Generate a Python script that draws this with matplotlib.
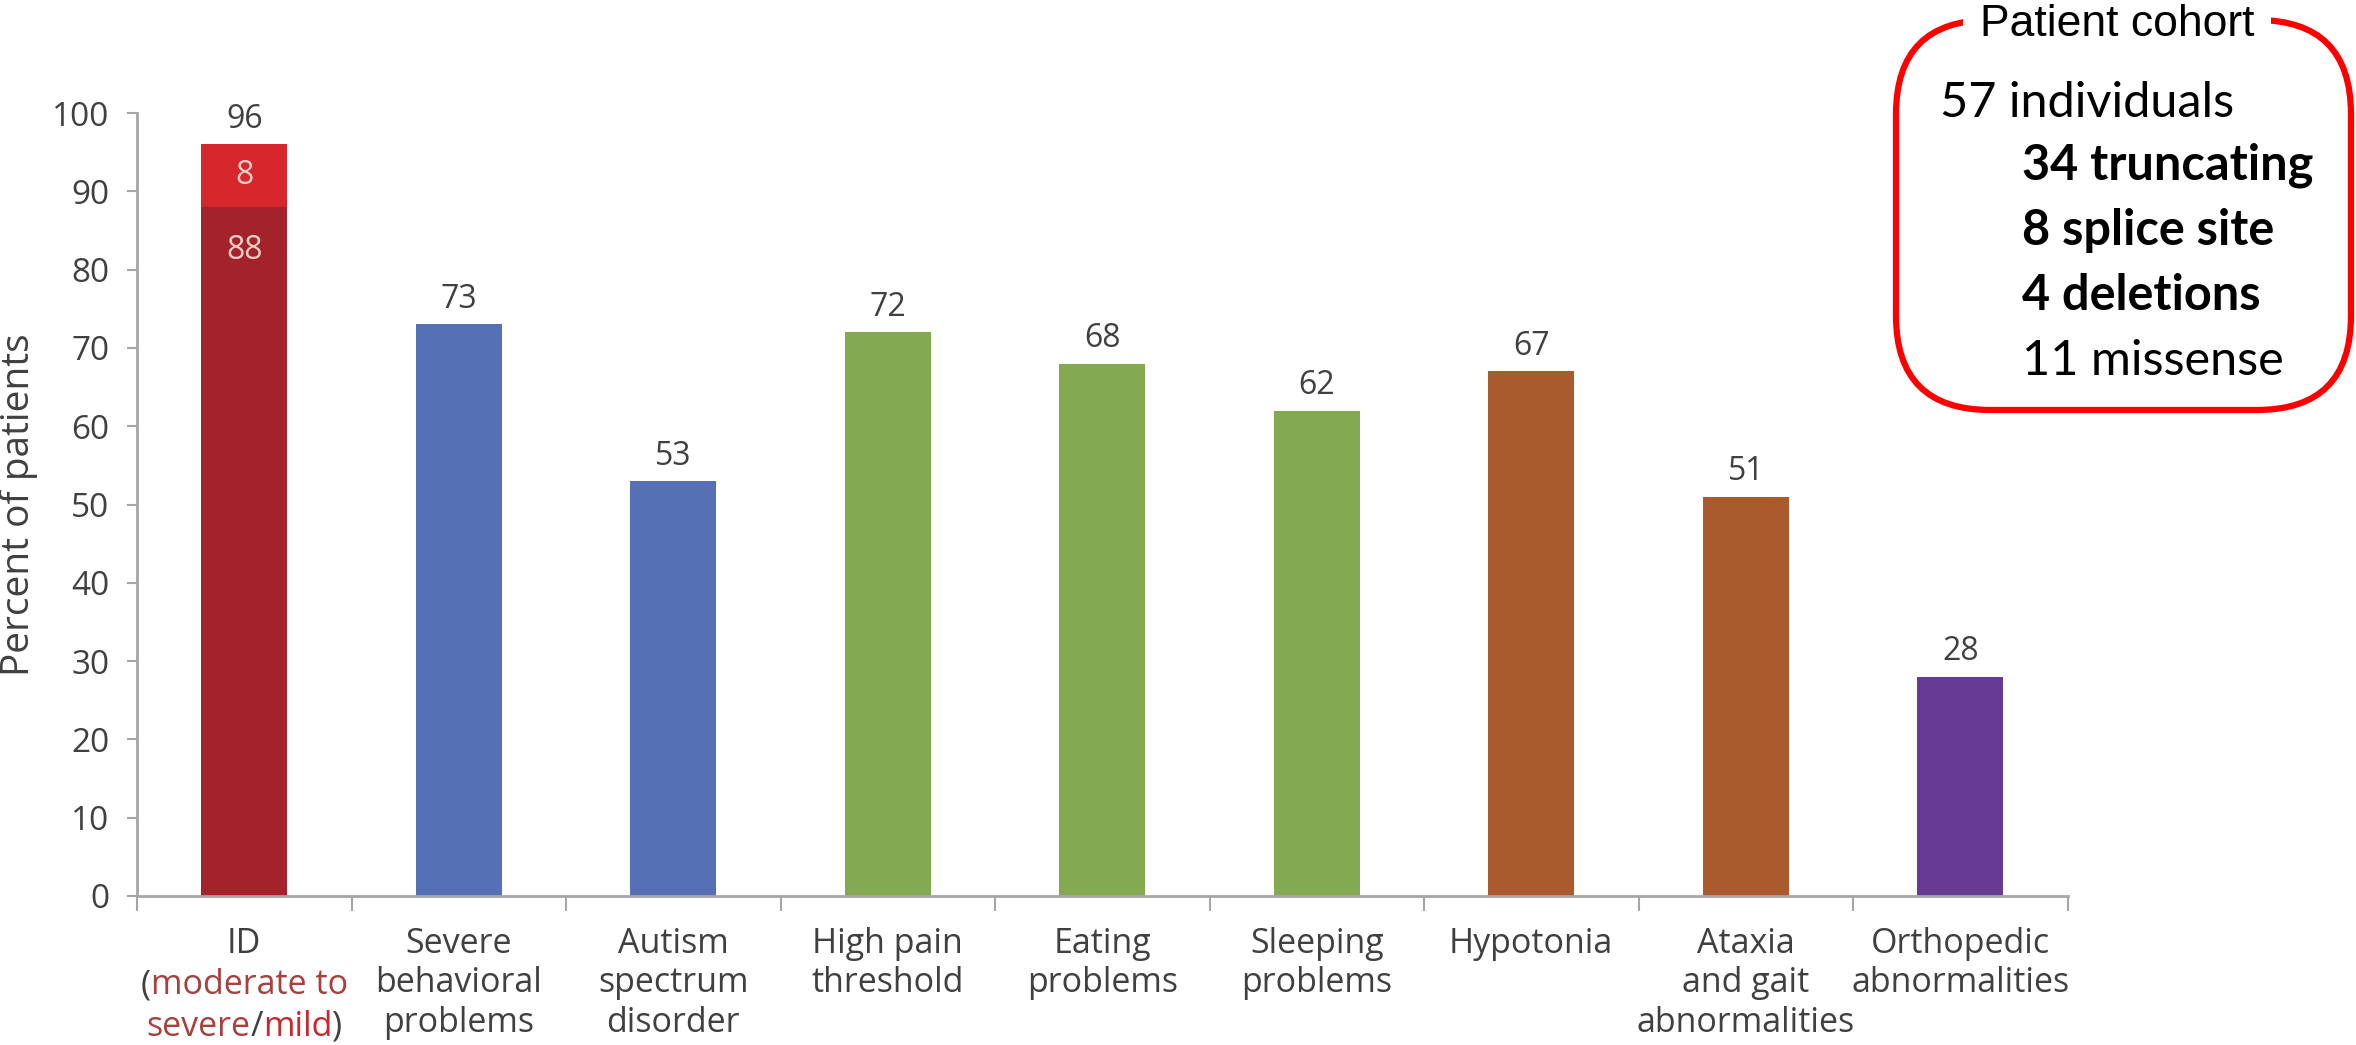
import matplotlib
matplotlib.use("Agg")
import matplotlib.pyplot as plt
from matplotlib.patches import FancyBboxPatch
from matplotlib.offsetbox import TextArea, HPacker, VPacker, AnnotationBbox
import matplotlib.transforms as mtransforms

# ---------------- data ----------------
categories = ["ID", "Severe\nbehavioral\nproblems", "Autism\nspectrum\ndisorder",
              "High pain\nthreshold", "Eating\nproblems", "Sleeping\nproblems",
              "Hypotonia", "Ataxia\nand gait\nabnormalities", "Orthopedic\nabnormalities"]
totals = [96, 73, 53, 72, 68, 62, 67, 51, 28]
id_moderate_severe = 88
id_mild = 8
bar_colors = ["#A4232A", "#5570B4", "#5570B4", "#83AA51", "#83AA51", "#83AA51",
              "#A95B2E", "#A95B2E", "#673A93"]
id_mild_color = "#D6272D"
yticks = [0, 10, 20, 30, 40, 50, 60, 70, 80, 90, 100]
cohort_title = "Patient cohort"
cohort_lines = [("57 individuals", "normal"), ("34 truncating", "bold"),
                ("8 splice site", "bold"), ("4 deletions", "bold"),
                ("11 missense", "normal")]

FONT = "Open Sans"
GREY = "#404040"
W, H = 2356, 1045
fig = plt.figure(figsize=(W / 100, H / 100), dpi=100)

ax = fig.add_axes([137 / W, (H - 896) / H, 1930.5 / W, (896 - 113) / H])
x = list(range(len(categories)))

# bars
for i, (t, c) in enumerate(zip(totals, bar_colors)):
    if i == 0:
        ax.bar(i, id_moderate_severe, width=0.40, color=c, zorder=2)
        ax.bar(i, id_mild, bottom=id_moderate_severe, width=0.40, color=id_mild_color, zorder=2)
    else:
        ax.bar(i, t, width=0.40, color=c, zorder=2)
    ax.annotate(str(t), (i, t), xytext=(0, 6), textcoords="offset points",
                ha="center", va="bottom", fontsize=23, color=GREY, family=FONT)

# inside labels for ID bar
ax.text(0, id_moderate_severe + id_mild / 2, str(id_mild), ha="center", va="center",
        fontsize=23, color="#F6CFC6", family=FONT, zorder=3)
ax.text(0, id_moderate_severe - 5.6, str(id_moderate_severe), ha="center", va="center",
        fontsize=23, color="#F6CFC6", family=FONT, zorder=3)

ax.set_xlim(-0.5, len(categories) - 0.5)
ax.set_ylim(0, 100)
ax.set_yticks(yticks)
ax.set_yticklabels([str(v) for v in yticks], fontsize=24, color=GREY, family=FONT)
ax.tick_params(axis="y", length=7, width=1.5, color="#A6A6A6", pad=13)

LABEL_FS = 24.5
ax.set_xticks(x)
ax.set_xticklabels([""] + categories[1:], fontsize=LABEL_FS, color=GREY, family=FONT,
                   linespacing=1.22)
ax.tick_params(axis="x", which="major", length=0, pad=22)
ax.set_xticks([i - 0.5 for i in range(len(categories) + 1)], minor=True)
ax.tick_params(axis="x", which="minor", length=11, width=1.5, color="#A6A6A6")

for s in ["top", "right"]:
    ax.spines[s].set_visible(False)
for s in ["left", "bottom"]:
    ax.spines[s].set_color("#A6A6A6")
    ax.spines[s].set_linewidth(2)

ax.set_ylabel("Percent of patients", fontsize=28, color=GREY, family=FONT, labelpad=10)

# multi-coloured ID label
dark_red = "#A8403D"
mild_red = "#C9272D"
def ta(s, col):
    return TextArea(s, textprops=dict(color=col, fontsize=LABEL_FS, family=FONT))
row1 = HPacker(children=[ta("ID", GREY)], sep=0, pad=0, align="baseline")
row2 = HPacker(children=[ta("(", GREY), ta("moderate to", dark_red)], sep=0, pad=0, align="baseline")
row3 = HPacker(children=[ta("severe", dark_red), ta("/", GREY), ta("mild", mild_red), ta(")", GREY)],
               sep=0, pad=0, align="baseline")
vbox = VPacker(children=[row1, row2, row3], sep=5.5, pad=0, align="center")
trans = mtransforms.blended_transform_factory(ax.transData, ax.transAxes)
ab = AnnotationBbox(vbox, (0, 0), xycoords=trans, xybox=(0, -22), boxcoords="offset points",
                    box_alignment=(0.5, 1), frameon=False, annotation_clip=False)
ax.add_artist(ab)

# cohort box
bx0, bx1, by0, by1 = 1896, 2351, 20, 410
box = FancyBboxPatch((bx0 / W, 1 - by1 / H), (bx1 - bx0) / W, (by1 - by0) / H,
                     boxstyle="round,pad=0,rounding_size=0.04",
                     transform=fig.transFigure, facecolor="white", edgecolor="#FF0000",
                     linewidth=4.5, mutation_aspect=W / H)
fig.patches.append(box)
fig.text(2117 / W, 1 - 24 / H, cohort_title, ha="center", va="center", fontsize=32,
         family="Liberation Sans", color="black",
         bbox=dict(facecolor="white", edgecolor="none", pad=12))
base_y = [117, 180, 245, 310, 375]
xs = [1940, 2022, 2022, 2022, 2022]
for (txt, wgt), yy, xx in zip(cohort_lines, base_y, xs):
    fig.text(xx / W, 1 - yy / H, txt, ha="left", va="baseline", fontsize=35,
             family="Lato", fontweight=wgt, color="black")

fig.savefig("out.png", dpi=100, facecolor="white")
